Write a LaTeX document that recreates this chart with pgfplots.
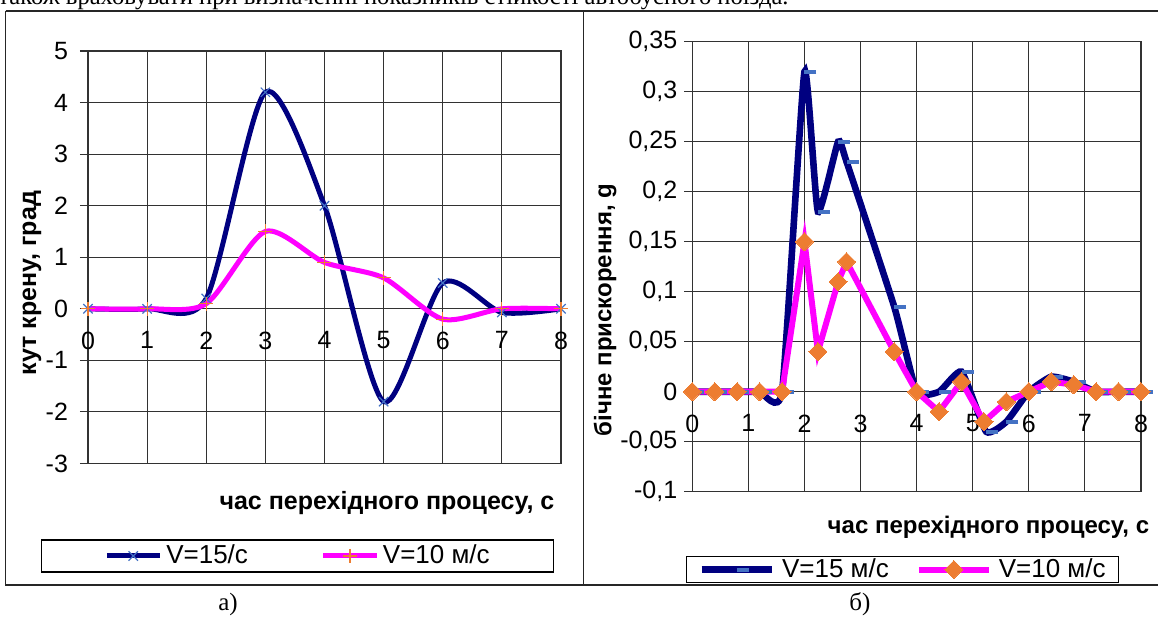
\documentclass[border=0pt]{standalone}
\usepackage{pgfplots}
\pgfplotsset{compat=1.18}
\usepackage{fontspec}
\setmainfont{Liberation Sans}
\newfontfamily\seriffont{Liberation Serif}
\definecolor{navyc}{RGB}{0,0,128}
\definecolor{magc}{RGB}{255,0,255}
\definecolor{mblue}{RGB}{68,114,196}
\definecolor{morange}{RGB}{237,125,49}
\definecolor{gridc}{RGB}{50,50,50}

\pgfplotsset{
  common/.style={
    scale only axis,
    anchor=south west,
    grid=major,
    major grid style={gridc, line width=0.55pt},
    axis line style={gridc, line width=0.55pt},
    tick align=outside,
    major tick length=4pt,
    xtick pos=bottom, ytick pos=left,
    xtick style={draw=none},
    ytick style={gridc, line width=0.55pt},
    tick label style={font=\fontsize{12.5}{14}\selectfont},
    /pgf/number format/assume math mode=true,
    scaled y ticks=false,
    legend columns=2,
    legend cell align=left,
  }
}

\pgfplotstableread{
x y
0 0
1 0
2 0.2
3 4.2
4 2
5 -1.8
6 0.5
7 -0.07
8 0
}\leftA
\pgfplotstableread{
x y
0 0
1 0
2 0.1
3 1.5
4 0.9
5 0.6
6 -0.2
7 0
8 0
}\leftB
\pgfplotstableread{
x y
0 0
0.4 0
0.8 0
1.2 0
1.6 0
2.0 0.32
2.24 0.18
2.6 0.25
2.75 0.23
3.6 0.085
4.0 0
4.4 0
4.8 0.02
5.24 -0.04
5.6 -0.03
6.0 0
6.4 0.015
6.8 0.01
7.2 0
7.6 0
8.0 0
}\rightA
\pgfplotstableread{
x y
0 0
0.4 0
0.8 0
1.2 0
1.6 0
2.0 0.15
2.24 0.04
2.6 0.11
2.75 0.13
3.6 0.04
4.0 0
4.4 -0.02
4.8 0.01
5.2 -0.03
5.6 -0.01
6.0 0
6.4 0.01
6.8 0.007
7.2 0
7.6 0
8.0 0
}\rightB

\begin{document}
\begin{tikzpicture}[x=0.5pt,y=0.5pt]
\useasboundingbox (0,0) rectangle (1158,617);

% top cut-off text line
\node[anchor=base west, inner sep=0, font=\seriffont\fontsize{12.3}{14}\selectfont] at (-2,612)
  {також враховувати при визначенні показників стійкості автобусного поїзда.};

% frames
\draw[line width=0.75pt, black!85] (5.5,606) -- (1158,606);
\draw[line width=0.75pt, black!85] (5.5,606) -- (5.5,32) -- (1158,32);
\draw[line width=0.75pt, black!85] (583.5,606) -- (583.5,32);

% captions
\node[font=\seriffont\fontsize{12.5}{14}\selectfont] at (228,13) {а)};
\node[font=\seriffont\fontsize{12.5}{14}\selectfont] at (860,13) {б)};

% ---------- left chart ----------
\begin{axis}[common,
  at={(44pt,76.75pt)}, width=236.5pt, height=206.25pt,
  xmin=0, xmax=8, ymin=-3, ymax=5,
  xtick={0,1,...,8}, ytick={-3,-2,...,5},
  xticklabel style={yshift=73.5pt},
  yticklabel style={xshift=-2.5pt},
  xlabel={час перехідного процесу, с},
  ylabel={кут крену, град},
  label style={font=\fontsize{12.5}{14}\selectfont\bfseries},
  xlabel style={at={(axis description cs:0.632,-0.0958)}, anchor=center},
  ylabel style={at={(axis description cs:-0.1184,0.4376)}, anchor=center},
  legend image code/.code={\draw[mark repeat=2,mark phase=2,#1] plot coordinates {(0pt,0pt) (13.25pt,0pt) (26.5pt,0pt)};},
  legend style={at={(axis description cs:0.4429,-0.2242)}, anchor=center, draw=black, line width=0.6pt,
    font=\fontsize{13}{15}\selectfont, inner xsep=31.5pt, inner ysep=2pt,
    nodes={inner sep=0.5pt},
    /tikz/every odd column/.append style={column sep=1.5pt},
    /tikz/every even column/.append style={column sep=36pt}},
]
\addplot[navyc, line width=2.5pt, smooth, tension=0.45, mark=x, mark size=3.3pt,
  mark options={mblue, line width=0.6pt}] table {\leftA};
\addlegendentry{V=15/с}
\addplot[magc, line width=2.5pt, smooth, tension=0.45, mark=+, mark size=3.5pt,
  mark options={morange, line width=0.6pt}] table {\leftB};
\addlegendentry{V=10 м/с}
\end{axis}

% ---------- right chart ----------
\begin{axis}[common,
  at={(346.15pt,62.65pt)}, width=224.35pt, height=225pt,
  xmin=0, xmax=8, ymin=-0.1, ymax=0.35,
  xtick={0,1,...,8}, ytick={-0.1,-0.05,0,0.05,0.1,0.15,0.2,0.25,0.3,0.35},
  yticklabels={{-0,1},{-0,05},{0},{0,05},{0,1},{0,15},{0,2},{0,25},{0,3},{0,35}},
  xticklabel style={yshift=46pt},
  xlabel={час перехідного процесу, с},
  ylabel={бічне прискорення, g},
  label style={font=\fontsize{12}{14}\selectfont\bfseries},
  xlabel style={at={(axis description cs:0.660,-0.0784)}, anchor=center},
  ylabel style={at={(axis description cs:-0.1946,0.4038)}, anchor=center},
  legend image code/.code={\draw[mark repeat=2,mark phase=2,#1] plot coordinates {(0pt,0pt) (17.5pt,0pt) (35pt,0pt)};},
  legend style={at={(axis description cs:0.4685,-0.1729)}, anchor=center, draw=black, line width=0.6pt,
    font=\fontsize{13}{15}\selectfont, inner xsep=6pt, inner ysep=0.5pt,
    nodes={inner sep=0.5pt},
    /tikz/every odd column/.append style={column sep=3pt},
    /tikz/every even column/.append style={column sep=13pt}},
]
\addplot[navyc, line width=3.3pt, smooth, tension=0.28, mark=-, mark size=3pt,
  mark options={mblue, line width=2pt, xshift=3pt}] table {\rightA};
\addlegendentry{V=15 м/с}
\addplot[magc, line width=3pt, mark=square*, mark size=3.2pt,
  mark options={morange, draw=morange, fill=morange, rotate=45, line width=0pt}] table {\rightB};
\addlegendentry{V=10 м/с}
\end{axis}
\end{tikzpicture}
\end{document}
